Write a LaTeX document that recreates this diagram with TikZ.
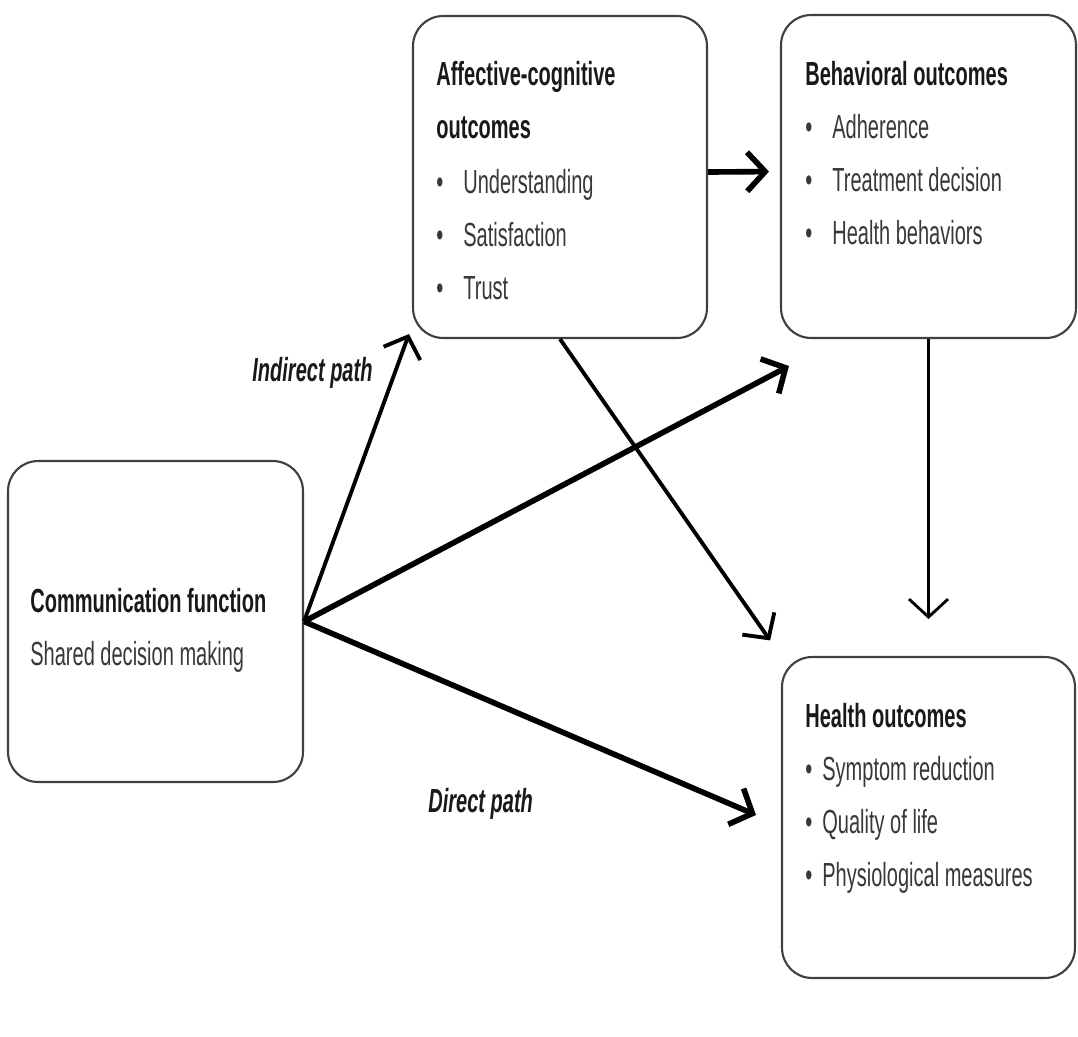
\documentclass[tikz,border=0pt]{standalone}
\usepackage{fontspec}
\setmainfont{Liberation Sans}[FakeStretch=0.6]
\usetikzlibrary{arrows.meta,positioning}

\tikzset{
  box/.style={draw=black!75, line width=1.2pt, rounded corners=0.6cm, inner sep=0pt},
  head/.style={anchor=base west, inner sep=0pt, font=\fontsize{19}{30}\selectfont\bfseries, text=black!90},
  item/.style={anchor=base west, inner sep=0pt, font=\fontsize{19}{30}\selectfont, text=black!78},
  pathlabel/.style={anchor=base west, inner sep=0pt, font=\fontsize{19}{30}\selectfont\bfseries\itshape, text=black!90},
  arr/.style={-{Straight Barb[length=0.36cm,width=0.78cm]}, line width=#1},
  arr/.default=2.2pt
}

\begin{document}
\begin{tikzpicture}[x=0.02cm, y=-0.02cm]
  \useasboundingbox (0,0) rectangle (1078,1036);
  \fill[white] (0,0) rectangle (1078,1036);

  % boxes
  \node[box, minimum width=5.9cm,  minimum height=6.42cm] (comm) at (155.5,621.5) {};
  \node[box, minimum width=5.88cm, minimum height=6.44cm] (aff)  at (560,177) {};
  \node[box, minimum width=5.9cm,  minimum height=6.46cm] (beh)  at (928.5,176.5) {};
  \node[box, minimum width=5.86cm, minimum height=6.42cm] (hlth) at (928.5,817.5) {};

  % communication function
  \node[head] (comm-h) at (30,612) {Communication function};
  \node[item] (comm-1) at (30,665) {Shared decision making};

  % affective-cognitive outcomes
  \node[head] (aff-h1) at (436,85) {Affective-cognitive};
  \node[head] (aff-h2) at (436,138) {outcomes};
  \foreach \t [count=\i] in {Understanding, Satisfaction, Trust}
    \node[item] (aff-\i) at (436,193+53*\i-53) {\makebox[0.54cm][l]{•}\t};

  % behavioral outcomes
  \node[head] (beh-h) at (805,85) {Behavioral outcomes};
  \foreach \t [count=\i] in {Adherence, Treatment decision, Health behaviors}
    \node[item] (beh-\i) at (805,138+53*\i-53) {\makebox[0.54cm][l]{•}\t};

  % health outcomes
  \node[head] (hlth-h) at (805,727) {Health outcomes};
  \foreach \t [count=\i] in {Symptom reduction, Quality of life, Physiological measures}
    \node[item] (hlth-\i) at (805,780+53*\i-53) {\makebox[0.34cm][l]{•}\t};

  % path labels
  \node[pathlabel] (indirect) at (252,381) {Indirect path};
  \node[pathlabel] (direct) at (428,812) {Direct path};

  % arrow tips off the boxes
  \coordinate (affTip) at ([shift={(-0.06cm,0.1cm)}]aff.south west);
  \coordinate (behTip) at ([shift={(0.18cm,-0.54cm)}]beh.south west);
  \coordinate (hlthTip) at ([shift={(-0.5cm,0.05cm)}]hlth.west);

  % connectors
  \draw[arr=2.2pt] (comm.east) -- (affTip);
  \draw[arr=3.2pt] (comm.east) -- (behTip);
  \draw[arr=3.2pt] (comm.east) -- (hlthTip);
  \draw[arr=2.2pt, shorten >=0.38cm] (aff.south) -- (hlth.north west);
  \draw[arr=3.2pt, shorten >=0.22cm] ([yshift=0.1cm]aff.east) -- ([yshift=0.1cm]beh.west);
  \draw[arr=1.6pt, shorten >=0.74cm] (beh.south) -- (hlth.north);
\end{tikzpicture}
\end{document}
